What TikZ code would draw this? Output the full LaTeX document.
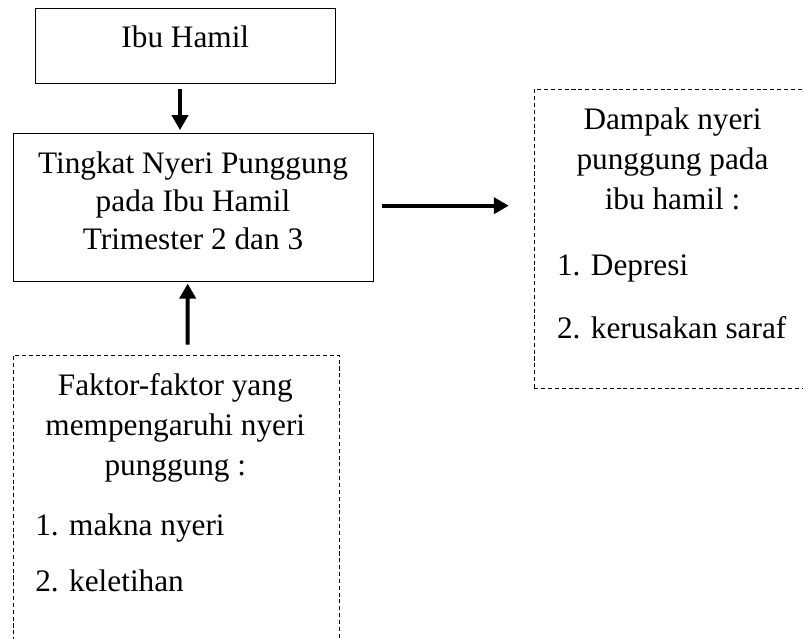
\documentclass[tikz,border=0pt]{standalone}
\usepackage{fontspec}
\setmainfont{Liberation Serif}
\usetikzlibrary{arrows.meta,calc}

\begin{document}
\begin{tikzpicture}[x=0.02cm, y=-0.02cm]
    \useasboundingbox (0,0) rectangle (803,638);

    \begin{scope}[every node/.style={rectangle, draw, line width=0.6pt, inner sep=0pt}]
        \node[minimum width=6cm, minimum height=1.5cm] (ibu) at (185.7,45.8) {};
        \node[minimum width=7.2cm, minimum height=2.97cm] (tingkat) at (193.3,207.5) {};
    \end{scope}

    \begin{scope}[every node/.style={rectangle, draw, line width=0.6pt, dash pattern=on 2.3pt off 1.6pt, inner sep=0pt}]
        \node[minimum width=6.4cm, minimum height=5.98cm] (dampak) at (694.3,238.8) {};
        \node[minimum width=6.52cm, minimum height=6.4cm] (faktor) at (176.3,515) {};
    \end{scope}

    \begin{scope}[every node/.style={inner sep=0pt, font=\fontsize{17.8pt}{21pt}\selectfont}]
        \node[anchor=base] (1) at (185.3,47.3) {Ibu Hamil};
        \node[anchor=base] (2) at (193,173.3) {Tingkat Nyeri Punggung};
        \node[anchor=base] (3) at (193,211.7) {pada Ibu Hamil};
        \node[anchor=base] (4) at (193,250) {Trimester 2 dan 3};
        \node[anchor=base] (5) at (672.5,130) {Dampak nyeri};
        \node[anchor=base] (6) at (672.5,170) {punggung pada};
        \node[anchor=base] (7) at (672.5,210) {ibu hamil :};
        \node[anchor=base west] (8) at (556.7,275) {1. Depresi};
        \node[anchor=base west] (9) at (556.7,338.3) {2. kerusakan saraf};
        \node[anchor=base] (10) at (175.3,395) {Faktor-faktor yang};
        \node[anchor=base] (11) at (175.3,435) {mempengaruhi nyeri};
        \node[anchor=base] (12) at (175.3,475) {punggung :};
        \node[anchor=base west] (13) at (35,535) {1. makna nyeri};
        \node[anchor=base west] (14) at (35,591.7) {2. keletihan};
    \end{scope}

    \begin{scope}[every edge/.style={draw, line width=2.3pt}]
        \path [-{Triangle[length=0.3cm, width=0.32cm]}] ($(ibu.south)+(-5.7,4.7)$) edge ($(tingkat.north)+(-13.3,-2.6)$);
        \path [-{Triangle[length=0.3cm, width=0.32cm]}] ($(faktor.north)+(11.4,-10)$) edge ($(tingkat.south)+(-5.6,1.3)$);
        \path [-{Triangle[length=0.3cm, width=0.32cm]}] ($(tingkat.east)+(8.4,-1.8)$) edge ($(dampak.west)+(-25,-33.1)$);
    \end{scope}
\end{tikzpicture}
\end{document}
